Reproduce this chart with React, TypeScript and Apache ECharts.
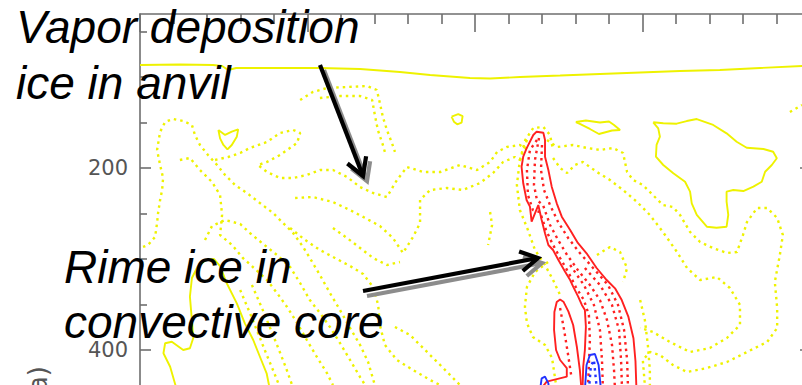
import React, { useEffect, useRef } from 'react';
import * as echarts from 'echarts';

// Axis ticks (km along the cross-section, pressure in hPa)
const xMajorTicks = [0, 50, 100, 150, 200];
const yLabelValues = [200, 400];

// ---------- Yellow solid contours ----------
const yellowSolidTop = [[0,86.8],[11.9,86.3],[21.8,86.8],[24.5,87.9],[26.3,92.3],[28.7,90.1],[41.8,90.1],[53.7,90.1],[65.7,91.2],[77.6,94.5],[86.6,97.8],[98.5,101.1],[104.5,101.6],[113.4,100],[125.4,98.4],[137.3,96.7],[149.3,95.1],[161.2,93.4],[173.1,92.3],[185.1,90.1],[200,87.4]];
const yellowSolidHeart = [[23.4,158.2],[25.4,163.7],[27.4,160.1],[29.3,157.5],[28.9,165.6],[27.4,174.7],[26.1,179.5],[24.9,174.7],[23.9,167.4],[23.4,158.2]];
const yellowSolidSmall = [[93.0,143.6],[95.0,140.7],[96.3,142.9],[96.0,150.2],[94.7,152.0],[93.7,149.1],[93.0,143.6]];
const yellowSolidMid = [[130.1,149.5],[133.1,147.8],[137.3,150.0],[140.0,148.9],[141.5,152.7],[143.3,158.2],[140.9,158.8],[137.0,162.6],[134.3,157.1],[131.3,151.6],[130.1,149.5]];
const yellowSolidRight = [[153.2,149.8],[154.7,156.4],[155.2,165.6],[154.2,174.7],[154.0,187.6],[156.2,196.7],[159.2,205.8],[162.7,215.1],[164.2,226],[164.7,238.8],[166.2,251.6],[169.2,264.5],[172.1,265.6],[175.1,264.5],[175.6,251.6],[175.1,237],[175.1,226],[177.1,224.2],[180.1,225.3],[183.1,220.5],[185.6,215.1],[186.6,204.1],[188.6,196.7],[190.1,189.3],[189.0,182.1],[186.1,179.1],[181.1,177.7],[178.1,171.1],[175.1,161.9],[171.1,152.7],[166.2,146.2],[163.2,148.4],[160.2,151.3],[156.2,150.9],[153.2,149.8]];
const yellowSolidLow = [[11.0,444],[9.0,418.4],[7.0,403.6],[7.5,392.6],[9.5,390.9],[12.9,400],[14.9,398.1],[15.9,386.8],[15.4,363.4],[14.9,341.4],[15.5,320.9],[17.3,307.7],[19.7,301.1],[22.1,300],[23.9,307.7],[25.9,326.7],[28.9,348.7],[31.3,370.7],[33.8,389],[35.8,407.4],[37.8,425.6],[38.8,444]];

// ---------- Yellow dotted contours ----------
const yd1 = [[0.9,286.8],[2.4,284.6],[4.5,275.8],[5.1,260.4],[5.4,249.4],[6.0,235.2],[6.6,224.2],[6.9,211.0],[6.0,196.7],[5.1,180.2],[6.0,160.4],[7.5,149.4],[9.9,146.1],[12.8,148.3],[15.5,152.7],[16.4,163.7],[17.9,174.7],[20.3,185.7],[23.0,196.7],[25.4,207.7],[28.4,218.7],[31.9,227.5],[35.8,238.5],[39.7,249.4],[42.7,260.4],[45.7,271.4],[48.7,286.8],[50.7,298.9],[53.7,317.6],[56.7,337.4],[59.7,356.0],[62.7,375.8],[65.7,394.5],[68.1,413.2],[70.1,438.5]];
const yd2 = [[11.9,191.2],[14.9,189.0],[17.9,202.2],[21.5,215.4],[23.9,229.7],[24.5,251.6],[23.9,273.6],[27.5,284.6],[30.7,298.9],[33.7,308.8],[37.9,323.1],[40.9,337.4],[43.9,352.7],[46.9,370.3],[49.8,389.0],[52.8,407.7],[55.8,425.3],[57.6,438.5]];
const yd3 = [[22.4,191.2],[26.3,187.9],[29.9,183.5],[32.8,178.0],[37.9,171.4],[41.8,161.5],[45.7,158.2],[47.8,161.5],[46.9,172.5],[41.8,185.7],[37.9,193.4],[35.2,196.7],[37.9,204.4],[41.8,211.0],[45.7,211.0],[49.8,207.7],[53.7,202.2],[57.6,202.2],[61.8,209.9],[65.7,220.9],[69.6,227.5],[73.7,231.9],[76.7,213.2],[79.7,198.9],[84.5,204.4],[89.6,204.4],[95.5,196.7],[100.6,202.2],[104.5,193.4],[106.6,182.4],[109.5,176.9],[113.4,174.7],[115.8,180.2]];
const yd4 = [[46.3,233.0],[51.6,231.9],[57.6,237.4],[62.7,246.2],[67.2,254.9],[71.6,263.7],[75.5,276.9],[78.5,293.4],[81.5,275.8],[83.6,260.4],[83.6,235.2],[86.6,224.2],[91.6,222.0],[96.4,224.2],[101.5,216.5],[105.4,205.5],[108.4,193.4],[111.9,187.9],[114.6,193.4]];
const yd5 = [[19.4,279.1],[21.5,263.7],[25.4,257.1],[29.9,261.5],[32.8,271.4],[36.4,282.4],[40.9,295.6],[44.8,308.8],[47.8,326.4],[50.7,345.1],[53.7,359.3],[56.7,374.7],[59.7,392.3],[62.7,411.0],[65.7,429.7],[67.2,438.5]];
const yd6 = [[44.8,265.9],[49.3,279.1],[53.7,290.1],[58.2,298.9],[62.7,307.7],[66.6,316.5],[69.6,330.8],[71.1,350.5],[71.6,372.5],[73.1,394.5],[76.7,411.0],[81.5,422.0],[86.6,433.0],[89.6,438.5]];
const yd7 = [[57.6,265.9],[61.8,276.9],[65.7,287.9],[69.6,298.9],[73.7,306.6],[77.6,303.3]];
const yd8 = [[47.8,125.3],[51.6,116.5],[55.8,112.1],[61.8,111.0],[67.8,109.9],[70.7,114.3],[71.6,128.6],[72.5,143.9],[73.7,158.2],[75.2,172.5],[76.1,182.4]];
const yd9 = [[53.7,123.1],[59.7,120.9],[65.7,120.9],[69.3,125.3],[70.1,141.7],[71.0,158.2],[72.5,174.7],[73.1,182.4]];
const yd10 = [[121.5,169.2],[124.5,176.9],[129.3,174.7],[133.4,178.0],[137.3,180.2],[141.2,178.0],[144.2,183.5],[145.4,204.4],[147.2,213.2],[150.1,218.7],[153.1,229.7],[156.1,240.7],[159.1,242.9],[161.2,251.6],[164.2,270.3],[167.2,281.3],[171.0,287.9],[175.2,293.4],[178.2,292.3],[180.0,273.6],[181.2,259.3],[184.2,244.0],[187.2,244.0],[190.2,254.9],[191.9,273.6],[191.0,295.6],[189.5,325.3],[190.2,353.8],[190.2,375.8],[187.2,391.2],[181.2,402.2],[175.2,413.2],[169.2,419.8],[163.3,424.2],[159.1,416.5],[155.2,405.5],[152.2,402.2],[150.1,411.0],[150.7,438.5]];
const yd11 = [[123.3,189.0],[125.4,200.0],[127.5,205.5],[129.8,196.7],[132.2,193.4],[136.4,204.4],[140.3,213.2],[144.2,224.2],[148.4,237.4],[152.2,251.6],[156.1,270.3],[160.3,292.3],[163.3,309.9],[167.2,323.1],[172.2,319.8],[176.1,331.9],[179.1,350.5],[179.1,372.5],[175.2,386.8],[170.1,397.8],[164.2,402.2],[158.2,391.2],[153.1,380.2],[149.3,375.8]];
const yd12 = [[136.4,295.6],[140.3,286.8],[143.3,292.3],[145.4,309.9],[144.2,325.3]];
const yd13 = [[115.5,169.2],[113.4,191.2],[112.5,218.7],[113.4,246.2],[115.8,268.1],[117.9,290.1],[120.9,306.6],[123.3,323.1],[125.4,339.6]];
const yd14 = [[121.8,303.3],[117.9,314.3],[115.5,330.8],[114.9,352.7],[115.5,370.3],[117.3,385.7],[120.9,394.5],[123.0,408.8],[124.2,438.5]];
const yd15 = [[76.1,374.7],[80.6,383.5],[85.1,400.0],[90.5,419.8],[95.5,438.5]];
const yd16 = [[149.3,345.1],[150.7,367.0],[151.6,394.5],[152.2,422.0],[152.2,438.5]];
const yd17 = [[194.0,138.5],[197.6,130.8]];
const yd18 = [[29.9,334.1],[32.8,359.3],[35.2,381.3],[37.6,403.3],[39.7,422.0],[41.5,438.5]];
const yd19 = [[33.4,328.6],[36.4,353.8],[39.1,378.0],[41.5,400.0],[43.6,419.8],[45.4,438.5]];
const yd20 = [[104.5,248.4],[105.1,262.6],[103.9,284.6]];
const yd21 = [[113.4,191.2],[115.0,169.2],[117.4,156.0],[120.4,154.9],[122.4,163.7],[123.3,180.2]];

// ---------- Red contours ----------
const redOutline = [[132.1,444],[132.3,418.4],[132.8,400],[133.1,374.4],[132.8,356],[131.9,350.5],[130.8,341.4],[129.3,330.4],[128.4,323.1],[126.9,314],[124.9,301.1],[123.3,290.1],[121.9,284.6],[120.9,271.8],[119.9,257.1],[118.9,240.7],[117.9,249.8],[116.9,259],[116.4,242.5],[115.4,235.2],[114.4,216.8],[113.9,198.6],[114.4,187.6],[115.4,178.4],[117.4,163.7],[118.4,160.1],[120.4,161.2],[120.9,169.2],[120.9,187.6],[121.9,202.2],[122.9,220.5],[124.4,238.8],[125.9,253.5],[128.4,268.1],[130.7,282.4],[133.3,293.7],[136.3,309.9],[139.3,323.1],[141.8,332.2],[143.8,345.1],[145.8,363.7],[147.3,387.1],[147.9,412.1],[148.2,444]];
const redInner = [[119.9,441.8],[121.4,434.8],[127.4,429.3],[127.4,419.8],[125.4,411],[124.2,400],[123.6,378],[123.7,358.2],[124.4,347.3],[125.4,344.5],[126.4,346.9],[127.9,357.9],[129.3,372.5],[130.4,396.4],[131.3,422],[131.8,444]];
const rd1 = [[118.5,169.2],[116.4,180.2],[115.5,202.2],[115.8,229.7],[117.3,246.2],[119.4,248.4],[121.2,268.1],[123.0,282.4],[125.4,298.9],[127.8,314.3],[130.1,330.8],[132.5,345.1],[134.0,361.5],[134.3,389],[134.0,416.5],[133.7,444]];
const rd2 = [[119.1,167],[117.9,191.2],[117.6,218.7],[118.5,235.2],[120.3,240.7],[122.4,262.6],[124.8,279.1],[127.5,295.6],[130.7,312.1],[134.3,328.6],[137.3,345.1],[139.4,367],[140.9,394.5],[141.5,422],[141.8,444]];
const rd3 = [[120.0,174.7],[119.7,202.2],[120.6,224.2],[122.4,240.7],[124.8,259.3],[127.8,276.9],[131.3,293.4],[135.8,312.1],[139.7,328.6],[142.7,350.5],[144.5,378],[145.4,411],[145.7,444]];
const rd4 = [[132.8,309.9],[137.3,328.6],[140.9,350.5],[143.0,378],[143.6,411],[143.9,444]];
const rd5 = [[128.4,306.6],[132.5,328.6],[135.5,350.5],[137.3,378],[137.9,411],[138.2,444]];
const rd6 = [[125.4,353.8],[126.6,378],[127.8,405.5],[128.7,427.5]];

// ---------- Blue contours ----------
const blueA = [[132.8,444],[133.3,416.5],[134.3,405.5],[135.8,404.4],[136.9,416.5],[137.6,444]];
const blueADots = [[134.0,444],[134.6,417.6],[135.5,411],[136.4,444]];
const blueB = [[119.4,444],[119.9,431.1],[120.9,429.3],[121.9,436.6],[122.1,444]];

const YELLOW = '#eef200';
const RED = '#ff2020';
const BLUE = '#2233ff';

function contour(data: number[][], color: string, dotted: boolean, width?: number) {
  return {
    type: 'line',
    data,
    xAxisIndex: 0,
    yAxisIndex: 0,
    symbol: 'none',
    silent: true,
    smooth: false,
    clip: true,
    lineStyle: {
      color,
      width: width ?? (dotted ? 2.4 : 1.9),
      type: dotted ? [2.5, 4] : 'solid',
      cap: 'butt',
    },
  };
}

const yellowDotted = [yd1, yd2, yd3, yd4, yd5, yd6, yd7, yd8, yd9, yd10, yd11, yd12, yd13, yd14, yd15, yd16, yd17, yd18, yd19, yd20, yd21];
const yellowSolid = [yellowSolidTop, yellowSolidHeart, yellowSolidSmall, yellowSolidMid, yellowSolidRight, yellowSolidLow];
const redDotted = [rd1, rd2, rd3, rd4, rd5, rd6];
const redSolid = [redOutline, redInner];

const series: any[] = [
  ...yellowDotted.map((d) => contour(d, YELLOW, true)),
  ...yellowSolid.map((d) => contour(d, YELLOW, false)),
  ...redDotted.map((d) => contour(d, RED, true)),
  ...redSolid.map((d) => contour(d, RED, false)),
  contour(blueA, BLUE, false),
  contour(blueADots, BLUE, true),
  contour(blueB, BLUE, false),
];

const AXIS = '#6e6e6e';

function arrow(tail: number[], tip: number[], wingA: number[], wingB: number[]) {
  const off = [4, 5];
  const sh = (p: number[]) => [p[0] + off[0], p[1] + off[1]];
  const mk = (pts: number[][], color: string) => ({
    type: 'polyline',
    z: 100,
    silent: true,
    shape: { points: pts },
    style: { stroke: color, lineWidth: 4.2, fill: null, lineJoin: 'miter', lineCap: 'butt' },
  });
  return [
    mk([sh(tail), sh(tip)], '#8c8c8c'),
    mk([sh(wingA), sh(tip), sh(wingB)], '#8c8c8c'),
    mk([tail, tip], '#000'),
    mk([wingA, tip, wingB], '#000'),
  ];
}

function label(text: string, x: number, y: number) {
  return {
    type: 'text',
    z: 110,
    silent: true,
    x,
    y,
    style: {
      text,
      fill: '#000',
      fontSize: 46,
      fontStyle: 'italic',
      fontFamily: '"Liberation Sans", Arial, sans-serif',
      align: 'left',
      verticalAlign: 'middle',
    },
  };
}

const option: any = {
  animation: false,
  backgroundColor: '#fff',
  grid: [
    { left: 140, right: -8, top: -14, height: 546, show: false, outerBoundsMode: 'none', containLabel: false },
    { left: 140, right: -8, top: 14, bottom: -30, show: false, outerBoundsMode: 'none', containLabel: false },
  ],
  xAxis: [
    { gridIndex: 0, type: 'value', min: 0, max: 200, show: false, axisLine: { onZero: false } },
    {
      gridIndex: 1,
      type: 'value',
      position: 'top',
      min: xMajorTicks[0],
      max: xMajorTicks[xMajorTicks.length - 1],
      interval: 50,
      axisLine: { show: true, onZero: false, lineStyle: { color: AXIS, width: 1.6 } },
      axisTick: { show: true, inside: true, length: 18, lineStyle: { color: AXIS, width: 1.6 } },
      minorTick: { show: true, splitNumber: 5, length: 10, lineStyle: { color: AXIS, width: 1.6 } },
      axisLabel: { show: false },
      splitLine: { show: false },
    },
  ],
  yAxis: [
    {
      gridIndex: 0,
      type: 'value',
      inverse: true,
      min: 0,
      max: 600,
      interval: 200,
      position: 'left',
      axisLine: { show: false, onZero: false },
      axisTick: { show: true, inside: true, length: 11, lineStyle: { color: AXIS, width: 1.6 } },
      minorTick: { show: true, splitNumber: 4, length: 7, lineStyle: { color: AXIS, width: 1.6 } },
      axisLabel: {
        show: true,
        margin: 12,
        color: '#555',
        fontSize: 21,
        fontFamily: '"DejaVu Sans", sans-serif',
        formatter: (v: number) => (yLabelValues.includes(v) ? String(v) : ''),
      },
      splitLine: { show: false },
    },
    {
      gridIndex: 1,
      type: 'value',
      min: 0,
      max: 1,
      position: 'left',
      axisLine: { show: true, onZero: false, lineStyle: { color: AXIS, width: 1.6 } },
      axisTick: { show: false },
      axisLabel: { show: false },
      splitLine: { show: false },
    },
    {
      gridIndex: 0,
      type: 'value',
      inverse: true,
      min: 0,
      max: 600,
      interval: 200,
      position: 'right',
      axisLine: { show: false, onZero: false },
      axisTick: { show: true, inside: true, length: 10, lineStyle: { color: AXIS, width: 1.6 } },
      axisLabel: { show: false },
      splitLine: { show: false },
    },
  ],
  series,
  graphic: [
    ...arrow([320, 65], [363, 176], [347.4, 163.5], [366.1, 156.2]),
    ...arrow([363, 291], [538, 258], [519.1, 251.4], [522.8, 271]),
    label('Vapor deposition', 16, 27),
    label('ice in anvil', 16, 83),
    label('Rime ice in', 64, 267),
    label('convective core', 64, 322),
    {
      type: 'text',
      z: 110,
      silent: true,
      x: 38,
      y: 366,
      rotation: Math.PI / 2,
      style: {
        text: 'Pressure (hPa)',
        fill: '#555',
        fontSize: 26,
        fontFamily: '"DejaVu Sans", sans-serif',
        align: 'right',
        verticalAlign: 'middle',
      },
    },
  ],
};

export default function App() {
  const ref = useRef<HTMLDivElement>(null);
  useEffect(() => {
    document.body.style.margin = '0';
    const chart = echarts.init(ref.current as HTMLDivElement, null, { renderer: 'svg' });
    chart.setOption(option);
    return () => chart.dispose();
  }, []);
  return (
    <div
      ref={ref}
      style={{ position: 'fixed', left: 0, top: 0, width: 802, height: 385, background: '#fff', overflow: 'hidden' }}
    />
  );
}
